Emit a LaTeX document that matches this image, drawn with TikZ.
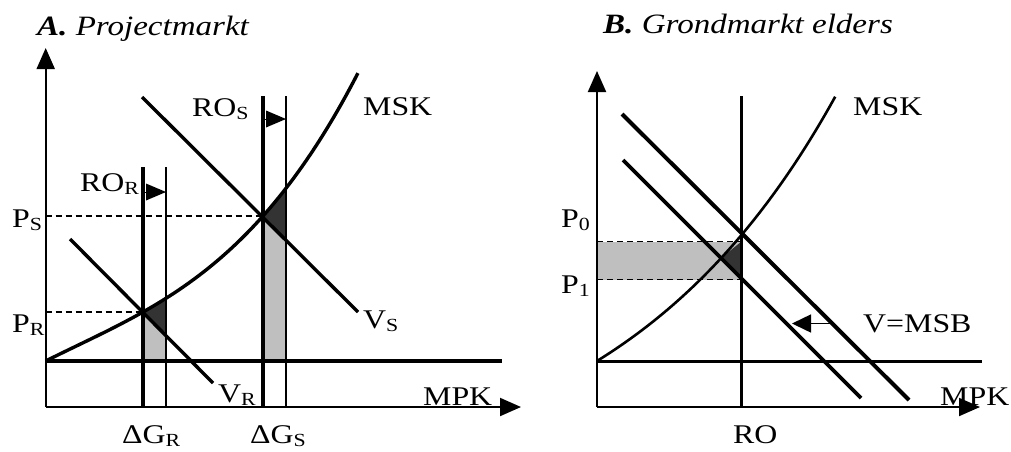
\documentclass[tikz,border=0pt]{standalone}
\usepackage{fontspec}
\setmainfont{Liberation Serif}[FakeStretch=1.18]
\usetikzlibrary{arrows.meta}
\newcommand\lbsub[1]{\raisebox{-0.14em}{\fontsize{18.5}{19}\selectfont #1}}
\begin{document}
\begin{tikzpicture}[x=1pt,y=-1pt,
 declare function={hA(\v)=50.06*\v-5.66*\v*\v+6.136*\v*\v*\v;
                   hB(\v)=137.6*(exp(0.45*\v)-1);},
 lbl/.style={anchor=base west,inner sep=0pt,font=\fontsize{27}{30}\selectfont},
 ttl/.style={anchor=base west,inner sep=0pt,font=\fontsize{28}{32}\selectfont\itshape},
 axis/.style={line width=2pt,-{Triangle[length=21pt,width=18pt]}},
 thk/.style={line width=3.4pt},
 thn/.style={line width=1.6pt},
 dsh/.style={line width=1.3pt,dash pattern=on 6pt off 4pt},
 lgrey/.style={fill=black!25},
 dgrey/.style={fill=black!80},
 shiftarrow/.style={-{Triangle[length=20pt,width=17pt]}},
 ]
\useasboundingbox (0,0) rectangle (1011,451);

% ---------------- Panel A ----------------
\coordinate (oA) at (45.7,407);
\coordinate (yA) at (45.7,48);
\coordinate (xA) at (521,407);
\coordinate (hA1) at (45.7,361);
\coordinate (hA2) at (502,361);

% fills
\fill[lgrey] (143,312) -- (166,335) -- (166,361) -- (143,361) -- cycle;
\fill[dgrey] plot[domain=0.973:1.203,samples=10] ({45.7+100*\x},{361-hA(\x)}) -- (166,335) -- cycle;
\fill[lgrey] (263,216) -- (286,239) -- (286,361) -- (263,361) -- cycle;
\fill[dgrey] plot[domain=2.173:2.403,samples=10] ({45.7+100*\x},{361-hA(\x)}) -- (286,239) -- cycle;

% dashed price lines
\draw[dsh] (45.7,216) -- (263,216);
\draw[dsh] (45.7,312) -- (143,312);

% axes
\draw[axis] (oA) -- (yA);
\draw[axis] (oA) -- (xA);
\draw[thk] (hA1) -- (hA2);

% RO lines
\draw[thk] (143,167) -- (143,407);
\draw[thn] (166,167) -- (166,407);
\draw[thk] (263,96) -- (263,407);
\draw[thn] (286,96) -- (286,407);
\draw[shiftarrow,line width=0pt] (145,192) -- (166,192);
\draw[shiftarrow,line width=0pt] (265,119) -- (286,119);

% demand lines
\draw[thk] (70,239) -- (213,383);
\draw[thk] (142,97) -- (358,312);

% MSK
\draw[thk] plot[domain=0:3.123,samples=80] ({45.7+100*\x},{361-hA(\x)});

% labels
\node[ttl] (tA) at (37,35) {\textbf{A.} Projectmarkt};
\node[lbl] (mskA) at (363,115) {MSK};
\node[lbl] (roS) at (192,116) {RO\lbsub{S}};
\node[lbl] (roR) at (80,191) {RO\lbsub{R}};
\node[lbl] (pS) at (12,227) {P\lbsub{S}};
\node[lbl] (pR) at (12,332) {P\lbsub{R}};
\node[lbl] (vS) at (363,328) {V\lbsub{S}};
\node[lbl] (vR) at (218,402) {V\lbsub{R}};
\node[lbl] (mpkA) at (423,405) {MPK};
\node[lbl] (gR) at (122,443) {ΔG\lbsub{R}};
\node[lbl] (gS) at (250,443) {ΔG\lbsub{S}};

% ---------------- Panel B ----------------
\coordinate (oB) at (597,407);
\coordinate (yB) at (597,71);
\coordinate (xB) at (980,407);
\coordinate (hB1) at (597,361);
\coordinate (hB2) at (982,361);

\fill[lgrey] (597,241.5) rectangle (741.5,279.5);
\fill[dgrey] (741.5,241.5) -- (721,258) -- (741.5,279) -- cycle;
\draw[dsh] (597,241.5) -- (741.5,241.5);
\draw[dsh] (597,279.5) -- (741.5,279.5);

\draw[axis] (oB) -- (yB);
\draw[axis] (oB) -- (xB);
\draw[line width=3pt] (hB1) -- (hB2);

\draw[thk] (741.5,96) -- (741.5,407);
\draw[line width=4pt] (622,114) -- (909,400);
\draw[line width=3.6pt] (623,160) -- (861,398);
\draw[line width=2.6pt] plot[domain=0:2.382,samples=80] ({597+100*\x},{361-hB(\x)});

\coordinate (arS) at (832,323.5);
\coordinate (arE) at (792,323.5);
\draw[line width=1.5pt,-{Triangle[length=19pt,width=18pt]}] (arS) -- (arE);

\node[ttl] (tB) at (603,33) {\textbf{B.} Grondmarkt elders};
\node[lbl] (mskB) at (853,115) {MSK};
\node[lbl] (p0) at (561,227) {P\lbsub{0}};
\node[lbl] (p1) at (561,293) {P\lbsub{1}};
\node[lbl] (vmsb) at (863,332) {V=MSB};
\node[lbl] (mpkB) at (940,405) {MPK};
\node[lbl] (ro) at (733,443) {RO};
\end{tikzpicture}
\end{document}
